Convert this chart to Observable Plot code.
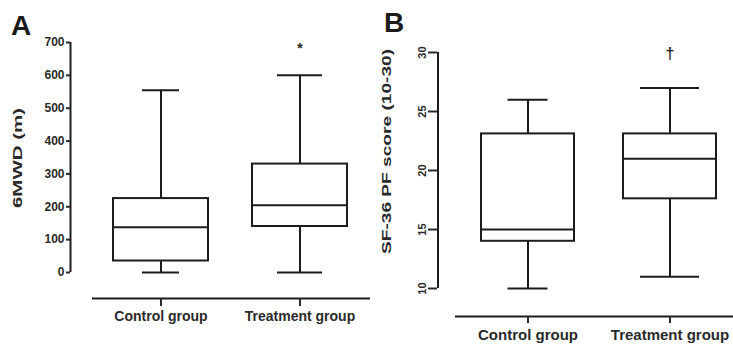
<!DOCTYPE html>
<html><head><meta charset="utf-8">
<script src="https://cdn.jsdelivr.net/npm/d3@7"></script>
<script src="https://cdn.jsdelivr.net/npm/@observablehq/plot@0.6"></script>
<style>
body{margin:0;background:#fff;}
#wrap{position:relative;width:733px;height:347px;overflow:hidden;font-family:"Liberation Sans",Arial,sans-serif;background:#fff;}
.panel{position:absolute;top:0;height:347px;}
.letter{position:absolute;font-weight:bold;font-size:28px;color:#1a1a1a;line-height:1;font-family:"Liberation Sans",Arial,sans-serif;}
</style></head><body>
<div id="wrap"></div>
<script>
// ---- data ----
const groups = ["Control group", "Treatment group"];
// Panel A: 6MWD (m)
const mwdMin = [0, 0];
const mwdQ1 = [35, 140];
const mwdMedian = [138, 205];
const mwdQ3 = [225, 330];
const mwdMax = [555, 600];
const mwdTicks = [0, 100, 200, 300, 400, 500, 600, 700];
const mwdSig = ["", "*"];
// Panel B: SF-36 PF score (10-30)
const sfMin = [10, 11];
const sfQ1 = [14, 17.6];
const sfMedian = [15, 21];
const sfQ3 = [23.1, 23.1];
const sfMax = [26, 27];
const sfTicks = [10, 15, 20, 25, 30];
const sfSig = ["", "†"];

const INK = "#1c1c1c";
const TXT = "#2a2a2a";

function rowsOf(mn, q1, md, q3, mx, sig) {
  return groups.map((g, i) => ({group: g, min: mn[i], q1: q1[i], median: md[i], q3: q3[i], max: mx[i], sig: sig[i]}));
}

function basePlot(c, marks, noAxes) {
  const xs = {type: "band", domain: groups, range: c.xRange, padding: c.padding};
  const ys = {domain: c.yDomain, range: c.yRange};
  if (noAxes) { xs.axis = null; ys.axis = null; }
  return Plot.plot({
    width: c.width, height: 347,
    marginLeft: c.marginLeft, marginRight: 0, marginTop: c.marginTop, marginBottom: c.marginBottom,
    style: {fontFamily: "'Liberation Sans', Arial, sans-serif", background: "transparent", overflow: "visible"},
    x: xs,
    y: ys,
    marks
  });
}

function boxLayer(c) {
  const rows = c.rows;
  const bw = c.bandwidth;
  const marks = [
    Plot.ruleX(rows, {x: "group", y1: "min", y2: "q1", stroke: INK, strokeWidth: 2}),
    Plot.ruleX(rows, {x: "group", y1: "q3", y2: "max", stroke: INK, strokeWidth: 2}),
    Plot.barY(rows, {x: "group", y1: "q1", y2: "q3", fill: "none", stroke: INK, strokeWidth: 2}),
    Plot.tickY(rows, {x: "group", y: "median", stroke: INK, strokeWidth: 2})
  ];
  rows.forEach((r, i) => {
    const inset = (bw - c.caps[i]) / 2;
    marks.push(Plot.tickY([r], {x: "group", y: "min", stroke: INK, strokeWidth: 2, insetLeft: inset, insetRight: inset}));
    marks.push(Plot.tickY([r], {x: "group", y: "max", stroke: INK, strokeWidth: 2, insetLeft: inset, insetRight: inset}));
  });
  marks.push(Plot.text(rows, {x: "group", text: "sig", frameAnchor: "top", dy: c.sigDy, fontSize: c.sigSize, fontWeight: "bold", fill: TXT}));
  marks.push(Plot.text([c.yLabel], {frameAnchor: "left", dx: c.labelDx, dy: c.labelDy, rotate: -90, textAnchor: "start", fontSize: 12, fontWeight: "bold", fill: TXT}));
  const svg = basePlot(c, marks, true);
  const txts = svg.querySelectorAll('[aria-label="text"] text');
  const lab = txts[txts.length - 1];
  lab.setAttribute("textLength", c.labelLength);
  lab.setAttribute("lengthAdjust", "spacingAndGlyphs");
  return svg;
}

function axisLayer(c) {
  const step = (c.xRange[1] - c.xRange[0]) / (groups.length + c.padding);
  const firstCenter = c.xRange[0] + step * c.padding + step * (1 - c.padding) / 2;
  const marks = [
    Plot.ruleX([groups[0]], {x: d => d, dx: c.marginLeft - firstCenter, insetBottom: c.yLineInsetBottom, stroke: INK, strokeWidth: 2}),
    Plot.ruleY([c.yDomain[0]], {dy: c.xLineDy, insetLeft: c.xLineInsetLeft, stroke: INK, strokeWidth: 2}),
    Plot.axisY({ticks: c.ticks, tickSize: c.yTickSize, tickPadding: c.yTickPadding, tickFormat: d => String(d),
      label: null, fontSize: c.tickFont, fontWeight: "bold", color: TXT, tickRotate: c.tickRotate, strokeWidth: 2}),
    Plot.axisX({tickSize: c.xTickSize, tickPadding: c.xTickPadding, label: null, fontSize: c.catFont,
      fontWeight: "bold", color: TXT, strokeWidth: 2})
  ];
  return basePlot(c, marks, false);
}

const wrap = document.getElementById("wrap");
function addPanel(c, left) {
  const div = document.createElement("div");
  div.className = "panel"; div.style.left = left + "px"; div.style.width = c.width + "px";
  const l1 = boxLayer(c);
  const l2 = axisLayer(c);
  for (const l of [l1, l2]) {
    l.style.position = "absolute"; l.style.left = "0px"; l.style.top = "0px";
    div.appendChild(l);
  }
  wrap.appendChild(div);
}

addPanel({
  rows: rowsOf(mwdMin, mwdQ1, mwdMedian, mwdQ3, mwdMax, mwdSig),
  ticks: mwdTicks, yDomain: [0, 700], yRange: [272, 42],
  width: 370, marginLeft: 70, marginTop: 42, marginBottom: 49,
  xRange: [68.5, 392], padding: 0.319, bandwidth: 95,
  caps: [37, 45],
  yLineInsetBottom: 26, xLineDy: 26, xLineInsetLeft: 22,
  yTickSize: 4, yTickPadding: 2, tickRotate: 0, tickFont: 12,
  xTickSize: 8, xTickPadding: 5, catFont: 14,
  sigDy: 0, sigSize: 15,
  yLabel: "6MWD (m)", labelDx: -52.5, labelDy: 37.5, labelLength: 100
}, 0);

addPanel({
  rows: rowsOf(sfMin, sfQ1, sfMedian, sfQ3, sfMax, sfSig),
  ticks: sfTicks, yDomain: [10, 30], yRange: [288, 52],
  width: 363, marginLeft: 67, marginTop: 52, marginBottom: 31,
  xRange: [61, 396], padding: 0.3427, bandwidth: 94,
  caps: [41, 60],
  yLineInsetBottom: 28, xLineDy: 28, xLineInsetLeft: 18,
  yTickSize: 9, yTickPadding: 3, tickRotate: -90, tickFont: 11,
  xTickSize: 7, xTickPadding: 6, catFont: 15,
  sigDy: -5, sigSize: 16,
  yLabel: "SF-36 PF score (10-30)", labelDx: -50, labelDy: 69.5, labelLength: 205
}, 370);

const la = document.createElement("div");
la.className = "letter"; la.textContent = "A";
la.style.left = "11px"; la.style.top = "12px";
wrap.appendChild(la);
const lb = document.createElement("div");
lb.className = "letter"; lb.textContent = "B";
lb.style.left = "384px"; lb.style.top = "9px";
wrap.appendChild(lb);
</script>
</body></html>
